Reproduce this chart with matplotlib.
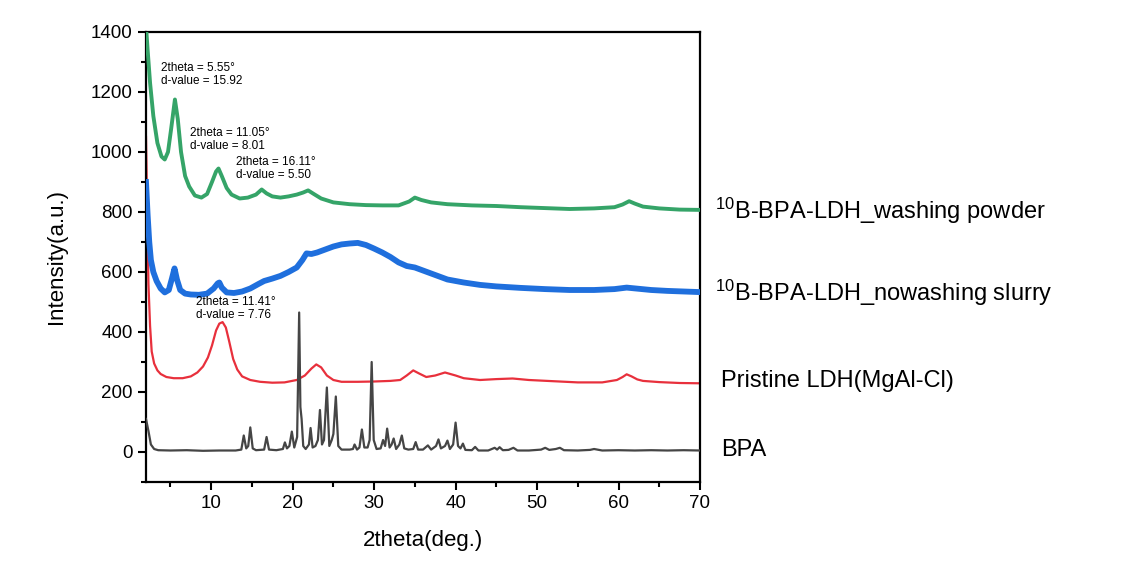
import matplotlib
matplotlib.use("Agg")
import matplotlib.pyplot as plt
from matplotlib.ticker import MultipleLocator

plt.rcParams['font.family'] = ['Liberation Sans', 'DejaVu Sans']
plt.rcParams['mathtext.fontset'] = 'custom'
plt.rcParams['mathtext.rm'] = 'Liberation Sans'

# --- data ---
washing_x = [2.0, 2.2, 2.5, 2.9, 3.4, 3.9, 4.3, 4.7, 5.1, 5.55, 5.9, 6.3, 6.8, 7.3, 8.0, 8.8, 9.5,
             10.1, 10.6, 10.9, 11.3, 11.9, 12.5, 13.5, 14.5, 15.5, 16.2, 16.8, 17.5, 18.5, 19.5,
             20.5, 21.3, 21.9, 22.6, 23.5, 25.0, 27.0, 29.0, 31.0, 33.0, 34.3, 35.0, 35.8, 37.0,
             39.0, 42.0, 45.0, 48.0, 51.0, 54.0, 57.0, 59.5, 60.5, 61.3, 62.0, 63.0, 65.0, 67.5, 70.0]
washing_y = [1420, 1340, 1230, 1120, 1030, 985, 975, 1000, 1080, 1175, 1110, 1000, 920, 885, 855,
             848, 860, 900, 935, 945, 920, 880, 858, 845, 848, 858, 875, 862, 852, 848, 852, 858,
             865, 872, 860, 845, 832, 826, 823, 822, 822, 835, 848, 840, 832, 826, 822, 820, 816,
             813, 810, 812, 816, 825, 836, 828, 818, 812, 808, 807]

slurry_x = [2.0, 2.2, 2.4, 2.6, 2.9, 3.3, 3.8, 4.3, 4.8, 5.2, 5.5, 5.8, 6.2, 6.8, 7.5, 8.5, 9.5,
            10.3, 10.8, 11.0, 11.3, 11.9, 12.8, 13.8, 14.8, 15.8, 16.5, 17.5, 18.5, 19.5, 20.5,
            21.2, 21.7, 22.3, 23.0, 24.0, 25.0, 26.0, 27.0, 28.0, 29.0, 30.0, 31.0, 32.0, 33.0,
            34.0, 35.0, 36.0, 37.5, 39.0, 41.0, 43.0, 45.0, 48.0, 51.0, 54.0, 57.0, 59.5, 61.0,
            62.5, 64.0, 66.0, 68.0, 70.0]
slurry_y = [900, 790, 700, 640, 600, 570, 545, 532, 540, 580, 612, 575, 540, 528, 525, 524, 528,
            545, 562, 565, 548, 532, 530, 535, 545, 560, 570, 578, 587, 600, 615, 640, 662, 660,
            665, 675, 685, 692, 695, 697, 690, 678, 665, 650, 632, 620, 615, 605, 590, 575, 565,
            557, 552, 547, 543, 540, 540, 543, 548, 544, 540, 537, 535, 533]

ldh_x = [2.0, 2.15, 2.3, 2.5, 2.7, 3.0, 3.4, 3.8, 4.5, 5.4, 6.5, 7.5, 8.3, 9.0, 9.6, 10.1, 10.6,
         11.0, 11.4, 11.8, 12.2, 12.7, 13.2, 13.8, 14.8, 16.0, 17.5, 19.0, 20.5, 21.5, 22.3, 22.9,
         23.5, 24.2, 25.0, 26.0, 28.0, 30.0, 32.0, 33.2, 34.0, 34.8, 35.5, 36.4, 37.5, 38.7, 40.0,
         41.0, 43.0, 45.0, 47.0, 49.0, 52.0, 55.0, 58.0, 59.8, 60.5, 61.0, 61.6, 62.3, 63.0, 65.0,
         67.5, 70.0]
ldh_y = [1050, 800, 560, 420, 335, 295, 272, 260, 250, 246, 246, 252, 265, 285, 315, 355, 405,
         428, 433, 415, 370, 310, 275, 252, 240, 234, 231, 232, 240, 255, 278, 292, 282, 255, 240,
         234, 234, 235, 237, 240, 255, 272, 262, 250, 255, 265, 255, 246, 240, 243, 245, 240, 236,
         232, 232, 240, 250, 259, 252, 242, 237, 233, 230, 229]

bpa_x = [2.0, 2.3, 2.6, 3.0, 3.5, 5.0, 7.0, 9.0, 11.0, 13.0, 13.7, 14.0, 14.3, 14.55, 14.8, 15.1,
         15.5, 16.5, 16.8, 17.1, 18.0, 18.8, 19.05, 19.3, 19.6, 19.9, 20.2, 20.55, 20.8, 20.95,
         21.1, 21.3, 21.6, 22.0, 22.2, 22.45, 22.8, 23.1, 23.35, 23.6, 23.85, 24.2, 24.5, 24.8,
         25.0, 25.3, 25.6, 26.0, 27.0, 27.4, 27.6, 27.9, 28.2, 28.5, 28.8, 29.2, 29.45, 29.7,
         29.95, 30.3, 30.8, 31.1, 31.35, 31.6, 31.9, 32.15, 32.4, 32.7, 33.1, 33.4, 33.7, 34.2,
         34.8, 35.1, 35.4, 36.0, 36.6, 37.0, 37.6, 37.9, 38.2, 38.7, 39.0, 39.3, 39.7, 40.0, 40.3,
         40.6, 40.9, 41.2, 42.0, 42.4, 42.8, 44.0, 44.8, 45.1, 45.4, 45.8, 46.5, 47.1, 47.6, 49.0,
         50.5, 51.0, 51.5, 52.3, 52.8, 53.3, 55.0, 56.5, 57.0, 58.0, 60.0, 62.0, 64.0, 66.0, 68.0,
         70.0]
bpa_y = [110, 70, 25, 10, 6, 5, 6, 4, 5, 5, 8, 55, 12, 20, 82, 12,
         6, 8, 50, 8, 6, 10, 32, 12, 20, 68, 15, 50, 465, 150,
         110, 20, 10, 25, 80, 15, 20, 40, 140, 25, 40, 215, 20, 40,
         60, 185, 20, 8, 8, 10, 25, 8, 15, 75, 15, 15, 40, 300,
         40, 10, 12, 40, 20, 78, 15, 25, 45, 10, 25, 55, 12, 8,
         10, 33, 8, 8, 22, 8, 20, 42, 12, 20, 38, 10, 25, 98, 20,
         12, 28, 7, 6, 17, 5, 5, 14, 8, 16, 6, 7, 14, 5, 5,
         8, 14, 7, 10, 14, 6, 5, 7, 10, 5, 6, 5, 6, 5, 6,
         5]

series_labels = [r'$\mathregular{^{10}}$B-BPA-LDH_washing powder',
                 r'$\mathregular{^{10}}$B-BPA-LDH_nowashing slurry',
                 'Pristine LDH(MgAl-Cl)',
                 'BPA']
label_pos = [(71.8, 805), (71.8, 532), (72.55, 235), (72.55, 7)]

annotations = ['2theta = 5.55°\nd-value = 15.92',
               '2theta = 11.05°\nd-value = 8.01',
               '2theta = 16.11°\nd-value = 5.50',
               '2theta = 11.41°\nd-value = 7.76']
annot_pos = [(3.85, 1300), (7.4, 1085), (13.05, 988), (8.15, 520)]

# --- figure ---
fig = plt.figure(figsize=(11.37, 5.75), dpi=100)
ax = fig.add_axes([146/1137, 1-482/575, (700-146)/1137, (482-32)/575])

ax.plot(ldh_x, ldh_y, color='#e8303c', lw=1.6, zorder=2)
ax.plot(slurry_x, slurry_y, color='#1f6fdd', lw=4.2, zorder=3)
ax.plot(washing_x, washing_y, color='#35a468', lw=2.8, zorder=4)
ax.plot(bpa_x, bpa_y, color='#454545', lw=1.6, zorder=5)

ax.set_xlim(2, 70)
ax.set_ylim(-100, 1400)
ax.xaxis.set_major_locator(MultipleLocator(10))
ax.xaxis.set_minor_locator(MultipleLocator(5))
ax.yaxis.set_major_locator(MultipleLocator(200))
ax.yaxis.set_minor_locator(MultipleLocator(100))
ax.tick_params(which='major', direction='out', length=6, width=1.5, labelsize=13.5,
               top=False, right=False)
ax.tick_params(which='minor', direction='out', length=3.5, width=1.5, top=False, right=False)
for s in ax.spines.values():
    s.set_linewidth(1.6)

ax.set_xlabel('2theta(deg.)', fontsize=16, labelpad=13)
ax.set_ylabel('Intensity(a.u.)', fontsize=16, labelpad=17)

for txt, (x, y) in zip(series_labels, label_pos):
    ax.text(x, y, txt, fontsize=17, ha='left', va='center', clip_on=False)

for txt, (x, y) in zip(annotations, annot_pos):
    ax.text(x, y, txt, fontsize=8.5, ha='left', va='top', linespacing=1.15)

fig.savefig('out.png', dpi=100)
